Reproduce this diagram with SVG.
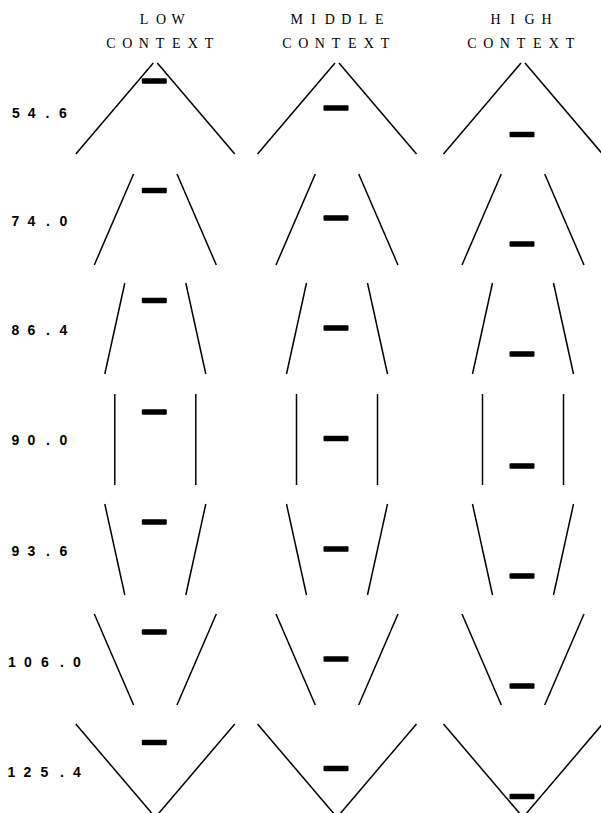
<svg xmlns="http://www.w3.org/2000/svg" width="601" height="813" viewBox="0 0 601 813">
<style>
.ln{stroke:#000;stroke-width:1.5;fill:none}
.bar{fill:#000}
.hd{font-family:"Liberation Serif","Times New Roman",serif;font-size:14px;fill:#000;text-anchor:middle}
.lb{font-family:"Liberation Sans",Arial,sans-serif;font-size:14px;font-weight:bold;fill:#000;text-anchor:middle}
</style>
<defs>
<g id="a1"><line class="ln" x1="-79.5" y1="91" x2="-2" y2="0"/><line class="ln" x1="2" y1="0" x2="79.5" y2="91"/></g>
<g id="a2"><line class="ln" x1="-61" y1="91" x2="-21.7" y2="0"/><line class="ln" x1="21.7" y1="0" x2="61" y2="91"/></g>
<g id="a3"><line class="ln" x1="-50.5" y1="91" x2="-30.5" y2="0"/><line class="ln" x1="30.5" y1="0" x2="50.5" y2="91"/></g>
<g id="a4"><line class="ln" x1="-40.5" y1="91" x2="-40.5" y2="0"/><line class="ln" x1="40.5" y1="0" x2="40.5" y2="91"/></g>
<g id="a5"><line class="ln" x1="-30.5" y1="91" x2="-50.5" y2="0"/><line class="ln" x1="50.5" y1="0" x2="30.5" y2="91"/></g>
<g id="a6"><line class="ln" x1="-21.7" y1="91" x2="-61" y2="0"/><line class="ln" x1="61" y1="0" x2="21.7" y2="91"/></g>
<g id="a7"><line class="ln" x1="-2" y1="91" x2="-79.5" y2="0"/><line class="ln" x1="79.5" y1="0" x2="2" y2="91"/></g>
<rect id="bar" class="bar" x="-12.5" y="-2.75" width="25" height="5.5" rx="1"/>
</defs>

<g id="headers">
<text class="hd" x="144 161 178" y="24">LOW</text>
<text class="hd" x="111 127.3 143.7 160 176.3 192.7 209" y="48">CONTEXT</text>
<text class="hd" x="296.75 313.25 329.75 346.25 362.75 379.25" y="24">MIDDLE</text>
<text class="hd" x="287 303.3 319.7 336 352.3 368.7 385" y="48">CONTEXT</text>
<text class="hd" x="495.5 512.5 529.5 546.5" y="24">HIGH</text>
<text class="hd" x="472 488.3 504.7 521 537.3 553.7 570" y="48">CONTEXT</text>
</g>

<g id="labels">
<text class="lb" x="16 31.6 47.5 63" y="118">54.6</text>
<text class="lb" x="15.5 31.5 48 63.5" y="226">74.0</text>
<text class="lb" x="15.5 31.5 48 63.5" y="335">86.4</text>
<text class="lb" x="15.5 31.5 48 63.5" y="445">90.0</text>
<text class="lb" x="15.5 31.5 48 63.5" y="556">93.6</text>
<text class="lb" x="12 28 45 62 77" y="667">106.0</text>
<text class="lb" x="11.5 27.5 44.5 62 77" y="777">125.4</text>
</g>

<g id="r1-low" transform="translate(155.3,63)"><use href="#a1"/><use href="#bar" x="-1" y="18"/></g>
<g id="r1-mid" transform="translate(337,63)"><use href="#a1"/><use href="#bar" x="-1" y="45"/></g>
<g id="r1-high" transform="translate(523,63)"><use href="#a1"/><use href="#bar" x="-1" y="71.5"/></g>

<g id="r2-low" transform="translate(155.3,174)"><use href="#a2"/><use href="#bar" x="-1" y="16.5"/></g>
<g id="r2-mid" transform="translate(337,174)"><use href="#a2"/><use href="#bar" x="-1" y="44"/></g>
<g id="r2-high" transform="translate(523,174)"><use href="#a2"/><use href="#bar" x="-1" y="70"/></g>

<g id="r3-low" transform="translate(155.3,283)"><use href="#a3"/><use href="#bar" x="-1" y="17.5"/></g>
<g id="r3-mid" transform="translate(337,283)"><use href="#a3"/><use href="#bar" x="-1" y="45"/></g>
<g id="r3-high" transform="translate(523,283)"><use href="#a3"/><use href="#bar" x="-1" y="71"/></g>

<g id="r4-low" transform="translate(155.3,394)"><use href="#a4"/><use href="#bar" x="-1" y="18"/></g>
<g id="r4-mid" transform="translate(337,394)"><use href="#a4"/><use href="#bar" x="-1" y="44.5"/></g>
<g id="r4-high" transform="translate(523,394)"><use href="#a4"/><use href="#bar" x="-1" y="72"/></g>

<g id="r5-low" transform="translate(155.3,504)"><use href="#a5"/><use href="#bar" x="-1" y="18"/></g>
<g id="r5-mid" transform="translate(337,504)"><use href="#a5"/><use href="#bar" x="-1" y="45"/></g>
<g id="r5-high" transform="translate(523,504)"><use href="#a5"/><use href="#bar" x="-1" y="72"/></g>

<g id="r6-low" transform="translate(155.3,614)"><use href="#a6"/><use href="#bar" x="-1" y="18"/></g>
<g id="r6-mid" transform="translate(337,614)"><use href="#a6"/><use href="#bar" x="-1" y="45"/></g>
<g id="r6-high" transform="translate(523,614)"><use href="#a6"/><use href="#bar" x="-1" y="72"/></g>

<g id="r7-low" transform="translate(155.3,724)"><use href="#a7"/><use href="#bar" x="-1" y="18.5"/></g>
<g id="r7-mid" transform="translate(337,724)"><use href="#a7"/><use href="#bar" x="-1" y="44.5"/></g>
<g id="r7-high" transform="translate(523,724)"><use href="#a7"/><use href="#bar" x="-1" y="72.5"/></g>
</svg>
